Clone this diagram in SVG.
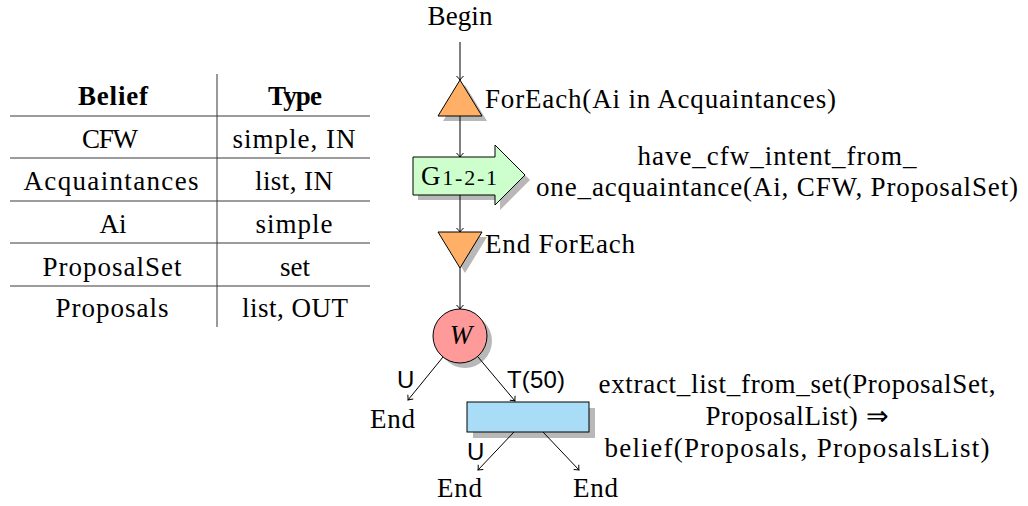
<svg xmlns="http://www.w3.org/2000/svg" width="1028" height="506" viewBox="0 0 1028 506">
<style>
  text { font-family: "Liberation Serif", "Times New Roman", serif; font-size: 27px; fill: #000; }
  .b { font-weight: bold; }
  .m { text-anchor: middle; }
  .lbl { font-family: "Liberation Sans", "DejaVu Sans", sans-serif; font-size: 24px; }
  .rule { stroke: #3a3a3a; stroke-width: 1.2; }
  .shadow { fill: #b8b8b8; stroke: none; }
  .node { stroke: #000; stroke-width: 1; }
  .conn { stroke: #000; stroke-width: 1; fill: none; marker-end: url(#arr); }
</style>
<defs>
  <marker id="arr" markerWidth="10" markerHeight="10" refX="0" refY="0" viewBox="-6 -5 8 10" orient="auto" markerUnits="userSpaceOnUse">
    <path d="M -4 -3.5 Q -1.5 -1 0 0 Q -1.5 1 -4 3.5" fill="none" stroke="#000" stroke-width="1"/>
  </marker>
</defs>
<rect width="1028" height="506" fill="#fff"/>

<g id="table">
  <line x1="217" y1="74" x2="217" y2="327" stroke="#777" stroke-width="1.5"/>
  <line class="rule" x1="10" y1="116" x2="370" y2="116"/>
  <line class="rule" x1="10" y1="158" x2="370" y2="158"/>
  <line class="rule" x1="10" y1="201" x2="370" y2="201"/>
  <line class="rule" x1="10" y1="243" x2="370" y2="243"/>
  <line class="rule" x1="10" y1="286" x2="370" y2="286"/>
  <text class="b m" x="113" y="105" textLength="70">Belief</text>
  <text class="b m" x="295" y="105" textLength="54">Type</text>
  <text class="m" x="110" y="148" textLength="56">CFW</text>
  <text class="m" x="294" y="148" textLength="123">simple, IN</text>
  <text class="m" x="111" y="190" textLength="175">Acquaintances</text>
  <text class="m" x="294" y="190" textLength="78">list, IN</text>
  <text class="m" x="113" y="233" textLength="27">Ai</text>
  <text class="m" x="294" y="233" textLength="77">simple</text>
  <text class="m" x="112" y="276" textLength="139">ProposalSet</text>
  <text class="m" x="295" y="276" textLength="30">set</text>
  <text class="m" x="112" y="317" textLength="113">Proposals</text>
  <text class="m" x="295" y="317" textLength="106">list, OUT</text>
</g>

<g id="begin">
  <text class="m" x="460" y="25" textLength="65">Begin</text>
</g>

<g id="foreach">
  <polygon class="shadow" points="465,85 487,121 443,121"/>
  <polygon class="node" points="460,80 482,116 438,116" fill="#ffb066"/>
  <text x="485" y="108" textLength="351">ForEach(Ai in Acquaintances)</text>
</g>

<g id="g121">
  <polygon class="shadow" points="418,162 500,162 500,150 530,180 500,210 500,200 418,200"/>
  <polygon class="node" points="413,157 495,157 495,145 525,175 495,205 495,195 413,195" fill="#ccffcc"/>
  <text x="421" y="185" textLength="76">G<tspan font-size="22">1-2-1</tspan></text>
  <text class="m" x="777" y="165" textLength="279">have_cfw_intent_from_</text>
  <text class="m" x="777" y="196" textLength="482">one_acquaintance(Ai, CFW, ProposalSet)</text>
</g>

<g id="endforeach">
  <polygon class="shadow" points="443,237 487,237 465,273"/>
  <polygon class="node" points="438,232 482,232 460,268" fill="#ffb066"/>
  <text x="485" y="253" textLength="150">End ForEach</text>
</g>

<g id="wait">
  <circle class="shadow" cx="465" cy="341" r="27"/>
  <circle class="node" cx="460" cy="336" r="27" fill="#ff9a9a"/>
  <text class="m" x="461" y="344" font-size="25" font-style="italic">W</text>
</g>

<g id="end1">
  <text x="370" y="428" textLength="45">End</text>
</g>

<g id="action">
  <rect class="shadow" x="473" y="408" width="122" height="30"/>
  <rect class="node" x="467" y="402" width="122" height="30" fill="#a9dcf7"/>
  <text class="m" x="797" y="393" textLength="397">extract_list_from_set(ProposalSet,</text>
  <text class="m" x="797" y="425" textLength="183">ProposalList) ⇒</text>
  <text class="m" x="797" y="457" textLength="385">belief(Proposals, ProposalsList)</text>
</g>

<g id="end2">
  <text x="437" y="497" textLength="45">End</text>
</g>

<g id="end3">
  <text x="573" y="497" textLength="45">End</text>
</g>

<g id="connectors">
  <line class="conn" x1="460" y1="42" x2="460" y2="80"/>
  <line class="conn" x1="460" y1="116" x2="460" y2="157"/>
  <line class="conn" x1="460" y1="195" x2="460" y2="232"/>
  <line class="conn" x1="460" y1="268" x2="460" y2="309"/>
  <line class="conn" x1="443" y1="357" x2="408" y2="400"/>
  <line class="conn" x1="478" y1="357" x2="515" y2="401"/>
  <line class="conn" x1="514" y1="432" x2="478" y2="470"/>
  <line class="conn" x1="543" y1="432" x2="579" y2="470"/>
  <text class="lbl" x="397" y="388" textLength="16">U</text>
  <text class="lbl" x="507" y="388" textLength="58">T(50)</text>
  <text class="lbl" x="467" y="460" textLength="18">U</text>
</g>
</svg>
